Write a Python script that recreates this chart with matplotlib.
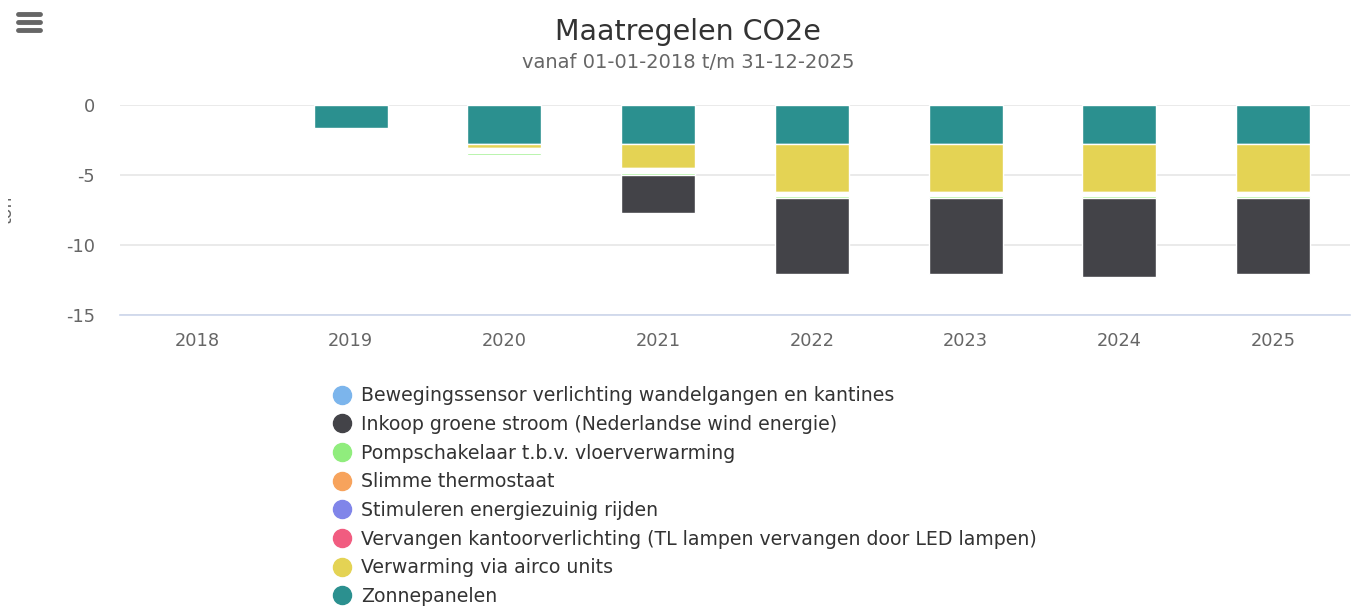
import matplotlib
matplotlib.use("Agg")
import matplotlib.pyplot as plt
import numpy as np
from matplotlib.lines import Line2D
from matplotlib.transforms import Bbox

plt.rcParams['font.family'] = ['DejaVu Sans']

years = ['2018', '2019', '2020', '2021', '2022', '2023', '2024', '2025']
# stacked from zero downward (negative values, ton CO2e)
zonnepanelen = [0, -1.65, -2.8, -2.8, -2.8, -2.8, -2.8, -2.8]
verwarming_airco = [0, 0, -0.3, -1.7, -3.4, -3.4, -3.4, -3.4]
kleine_maatregelen = [0, 0, -0.33, -0.33, -0.3, -0.3, -0.3, -0.3]  # rendered as white gap
pompschakelaar = [0, 0, -0.15, -0.15, -0.15, -0.15, -0.15, -0.15]
inkoop_groene_stroom = [0, 0, 0, -2.7, -5.45, -5.45, -5.65, -5.45]

legend_labels = [
    'Bewegingssensor verlichting wandelgangen en kantines',
    'Inkoop groene stroom (Nederlandse wind energie)',
    'Pompschakelaar t.b.v. vloerverwarming',
    'Slimme thermostaat',
    'Stimuleren energiezuinig rijden',
    'Vervangen kantoorverlichting (TL lampen vervangen door LED lampen)',
    'Verwarming via airco units',
    'Zonnepanelen',
]
legend_colors = ['#7cb5ec', '#434348', '#90ed7d', '#f7a35c', '#8085e9',
                 '#f15c80', '#e4d354', '#2b908f']

W, H = 1355, 608
fig = plt.figure(figsize=(W / 100, H / 100), dpi=100)
ax = fig.add_axes([120 / W, 1 - 315 / H, (1350 - 120) / W, (315 - 105) / H])

x = np.arange(len(years))
bw = 0.48
stack = [
    (zonnepanelen, '#2b908f'),
    (verwarming_airco, '#e4d354'),
    (kleine_maatregelen, '#ffffff'),
    (pompschakelaar, '#90ed7d'),
    (inkoop_groene_stroom, '#434348'),
]
bottom = np.zeros(len(years))
for vals, col in stack:
    v = np.array(vals, dtype=float)
    m = v != 0
    ax.bar(x[m], v[m], bw, bottom=bottom[m], color=col, edgecolor='white',
           linewidth=1.0, zorder=3)
    bottom = bottom + v

ax.set_xlim(-0.5, len(years) - 0.5)
ax.set_ylim(-15, 0)
ax.set_yticks([0, -5, -10, -15])
ax.set_yticklabels(['0', '-5', '-10', '-15'])
ax.set_xticks(x)
ax.set_xticklabels(years)
for s in ['top', 'right', 'left']:
    ax.spines[s].set_visible(False)
ax.spines['bottom'].set_color('#ccd6eb')
ax.spines['bottom'].set_linewidth(1.2)
ax.grid(axis='y', color='#e6e6e6', linewidth=1.2, zorder=0)
ax.set_axisbelow(True)
ax.tick_params(axis='both', length=0, labelsize=12.8, colors='#666666')
ax.tick_params(axis='y', pad=18)
ax.tick_params(axis='x', pad=12)

# title & subtitle
fig.text(688 / W, 1 - 32 / H, 'Maatregelen CO2e', ha='center', va='center',
         fontsize=20.5, color='#333333')
fig.text(688 / W, 1 - 62 / H, 'vanaf 01-01-2018 t/m 31-12-2025', ha='center',
         va='center', fontsize=14, color='#666666')

# y-axis title, largely clipped at the left edge
yt = fig.text(16 / W, 1 - 210 / H, 'ton', rotation=90, ha='right', va='center',
              fontsize=12.5, color='#666666')
yt.set_clip_box(Bbox.from_extents(8, 0, 40, H))
yt.set_clip_on(True)

# menu icon
for yy in [14, 22, 30]:
    fig.add_artist(Line2D([18 / W, 40 / W], [1 - yy / H, 1 - yy / H],
                          color='#666666', linewidth=3.5,
                          solid_capstyle='round', transform=fig.transFigure))

# legend
handles = [Line2D([0], [0], marker='o', linestyle='none', markersize=13,
                  markerfacecolor=c, markeredgecolor=c) for c in legend_colors]
leg = fig.legend(handles, legend_labels, loc='upper left',
                 bbox_to_anchor=(322 / W, 1 - 377 / H), frameon=False,
                 fontsize=13.6, labelspacing=0.51, handletextpad=0.45,
                 handlelength=1.1, borderpad=0)
for t in leg.get_texts():
    t.set_color('#333333')

fig.savefig('out.png', dpi=100, facecolor='white')
